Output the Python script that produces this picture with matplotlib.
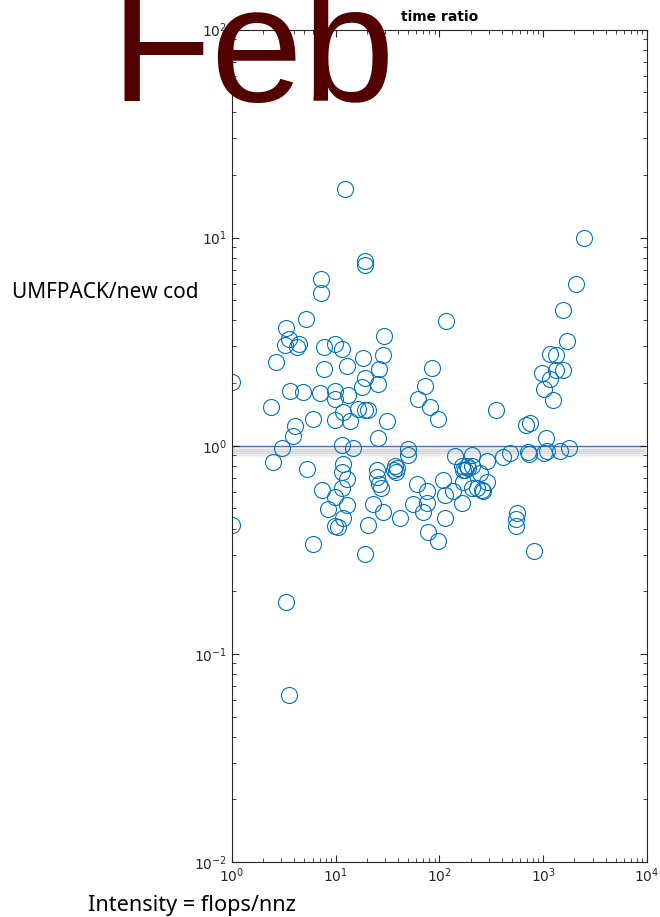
import matplotlib
matplotlib.use('Agg')
import matplotlib.pyplot as plt
import matplotlib.patheffects as pe

# intensity (flops/nnz) and time ratio (UMFPACK / new code)
intensity_left = [1.0, 1.0, 3.34, 3.54, 3.22, 4.42, 4.23, 5.20, 7.16, 7.16, 7.65, 9.77,
                  2.64, 7.65, 3.65, 4.80, 7.10, 9.77, 9.9, 2.36, 6.04, 4.02, 3.85, 3.03,
                  9.77, 2.48, 5.28, 7.42, 9.77, 8.42, 9.77, 6.04, 3.29, 3.54]
ratio_left = [2.02, 0.414, 3.70, 3.26, 3.06, 3.08, 2.98, 4.08, 6.35, 5.40, 2.97, 3.07,
              2.54, 2.35, 1.84, 1.82, 1.80, 1.84, 1.68, 1.53, 1.35, 1.25, 1.11, 0.975,
              1.33, 0.831, 0.773, 0.610, 0.567, 0.498, 0.412, 0.338, 0.177, 0.0637]

intensity_mid = [12.3, 19.1, 19.3, 117, 29.4, 11.4, 28.4, 18.4, 12.8, 26.3, 84.1, 19.1,
                 25.4, 17.8, 72.5, 13.2, 62.5, 81, 16.5, 19.1, 20.6, 11.8, 13.7, 31.0,
                 97.3, 25.4, 11.4, 14.8, 50.0,
                 11.7, 11.4, 12.8, 24.8, 24.8, 26.3, 27.3, 37.2, 38.1, 38.9, 36.4, 50.0,
                 60.3, 75.3, 109, 113, 11.4, 12.8, 23.0, 28.7, 55.2, 75.3, 69.8, 41.6,
                 11.7, 10.6, 20.6, 113, 78.0, 97.3, 19.1]
ratio_mid = [17.2, 7.7, 7.4, 3.96, 3.38, 2.93, 2.72, 2.64, 2.43, 2.34, 2.36, 2.12,
             1.99, 1.91, 1.93, 1.75, 1.68, 1.53, 1.50, 1.49, 1.48, 1.45, 1.32, 1.32,
             1.35, 1.09, 1.01, 0.975, 0.964,
             0.819, 0.748, 0.692, 0.767, 0.711, 0.657, 0.626, 0.795, 0.752, 0.784, 0.767, 0.898,
             0.654, 0.603, 0.687, 0.581, 0.626, 0.520, 0.525, 0.478, 0.525, 0.530, 0.483, 0.452,
             0.449, 0.409, 0.417, 0.449, 0.387, 0.347, 0.302]

intensity_right = [2489, 2056, 1560, 1706, 1161, 1336, 966, 1327, 1550, 1161, 1016, 1233,
                   348, 690, 745, 1063,
                   141, 204, 285, 412, 475, 708, 734, 1012, 1079, 1459, 1762,
                   169, 164, 183, 204, 176, 188, 246, 285, 169, 228, 255, 264, 136, 164,
                   204, 555, 546, 546, 820]
ratio_right = [9.97, 6.01, 4.51, 3.17, 2.76, 2.73, 2.24, 2.32, 2.32, 2.10, 1.87, 1.66,
               1.48, 1.26, 1.29, 1.09,
               0.890, 0.900, 0.841, 0.885, 0.918, 0.931, 0.916, 0.922, 0.939, 0.939, 0.971,
               0.767, 0.795, 0.795, 0.801, 0.767, 0.784, 0.739, 0.673, 0.673, 0.626, 0.614,
               0.603, 0.603, 0.530, 0.626, 0.475, 0.444, 0.412, 0.312]


def main():
    x = intensity_left + intensity_mid + intensity_right
    y = ratio_left + ratio_mid + ratio_right

    fig = plt.figure(figsize=(6.6, 9.17), dpi=100)
    ax = fig.add_axes([0.3515, 0.060, 0.6285, 0.9078])

    ax.plot(x, y, linestyle='none', marker='o', markersize=11.5,
            markerfacecolor='none', markeredgecolor='#0072BD', markeredgewidth=0.8)

    # the y = 1 reference line, with a soft grey shadow fading out below it
    shadow = [pe.SimpleLineShadow(offset=(0, -d), shadow_color='#707070',
                                  alpha=a, linewidth=2.2)
              for d, a in ((1.5, 0.10), (3, 0.17), (4.5, 0.17), (6, 0.11), (7.5, 0.05))]
    ax.plot([1, 9.4e3], [1.0, 1.0], color='#4a74b4', linewidth=1.0, zorder=1,
            path_effects=shadow + [pe.Normal()])

    ax.set_xscale('log')
    ax.set_yscale('log')
    ax.set_xlim(1, 1e4)
    ax.set_ylim(1e-2, 1e2)

    ax.tick_params(which='both', direction='in', top=True, right=True,
                   colors='#262626', labelsize=10)
    ax.tick_params(which='major', length=5)
    ax.tick_params(which='minor', length=3)
    for s in ax.spines.values():
        s.set_color('#262626')
        s.set_linewidth(0.8)

    ax.set_title('time ratio', fontweight='bold', fontsize=10, pad=6)

    fig.text(12 / 660, 1 - 292 / 917, 'UMFPACK/new cod', fontsize=15,
             family='Noto Sans', ha='left', va='center')
    fig.text(88 / 660, 1 - 905 / 917, 'Intensity = flops/nnz', fontsize=15.6,
             family='Noto Sans', ha='left', va='center')

    fig.text(111 / 660, 1 - 101 / 917, 'Feb', fontsize=119, color='#520000',
             family='Liberation Sans', ha='left', va='baseline', zorder=10)

    fig.savefig('out.png', dpi=100)


if __name__ == "__main__":
    main()
